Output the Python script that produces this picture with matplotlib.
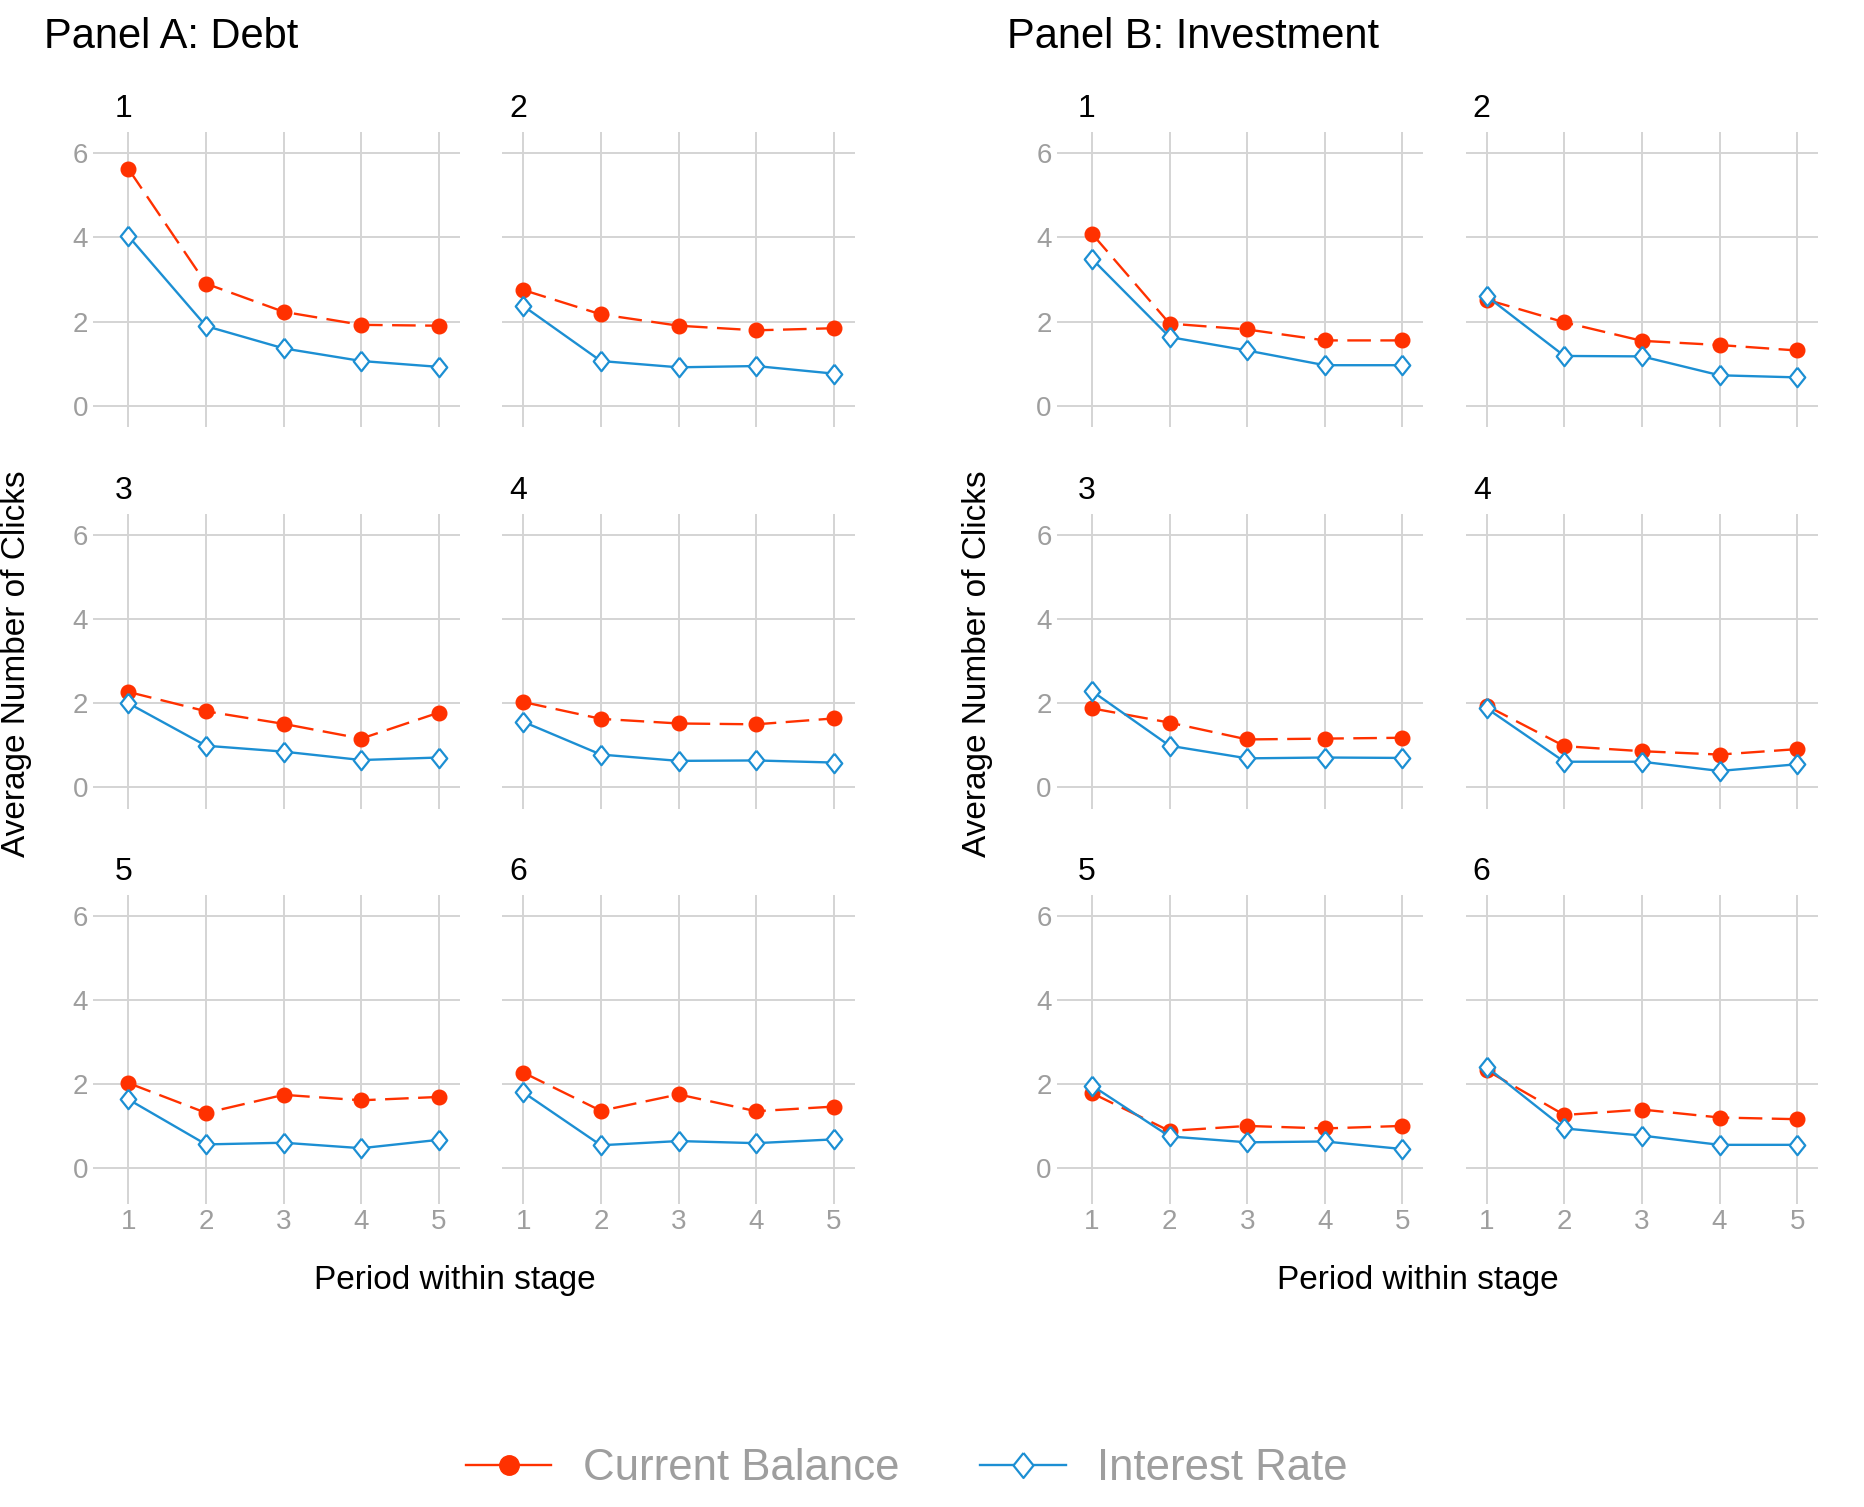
import matplotlib
matplotlib.use("Agg")
import matplotlib.pyplot as plt
from matplotlib.lines import Line2D

plt.rcParams["font.family"] = ["Liberation Sans", "DejaVu Sans"]

periods = [1, 2, 3, 4, 5]
stages = ["1", "2", "3", "4", "5", "6"]

# average clicks per period, one row per stage
debt_balance = [
    [5.63, 2.90, 2.23, 1.92, 1.90],
    [2.75, 2.17, 1.90, 1.79, 1.84],
    [2.27, 1.81, 1.51, 1.16, 1.78],
    [2.03, 1.63, 1.52, 1.50, 1.64],
    [2.02, 1.31, 1.74, 1.61, 1.69],
    [2.27, 1.36, 1.75, 1.35, 1.46],
]
debt_rate = [
    [4.03, 1.89, 1.36, 1.06, 0.92],
    [2.37, 1.06, 0.91, 0.94, 0.76],
    [2.00, 0.99, 0.85, 0.65, 0.71],
    [1.56, 0.78, 0.63, 0.64, 0.59],
    [1.63, 0.56, 0.60, 0.47, 0.67],
    [1.80, 0.54, 0.64, 0.59, 0.68],
]
invest_balance = [
    [4.09, 1.95, 1.81, 1.55, 1.55],
    [2.52, 1.98, 1.54, 1.44, 1.31],
    [1.88, 1.54, 1.14, 1.16, 1.18],
    [1.94, 0.98, 0.86, 0.78, 0.91],
    [1.78, 0.88, 1.00, 0.94, 1.00],
    [2.32, 1.26, 1.39, 1.20, 1.16],
]
invest_rate = [
    [3.49, 1.63, 1.31, 0.96, 0.96],
    [2.60, 1.18, 1.17, 0.72, 0.67],
    [2.29, 0.99, 0.69, 0.71, 0.70],
    [1.88, 0.61, 0.61, 0.39, 0.55],
    [1.96, 0.75, 0.61, 0.63, 0.45],
    [2.40, 0.94, 0.77, 0.55, 0.55],
]

RED = "#FF3100"
BLUE = "#1C8FD3"
GRID = "#D4D4D4"
TICK = "#9E9E9E"
diamond = [(0, 1), (0.8, 0), (0, -1), (-0.8, 0), (0, 1)]

W, H = 1865, 1507
fig = plt.figure(figsize=(W / 100, H / 100), dpi=100)


def add_px_axes(left, top, width, height):
    return fig.add_axes([left / W, 1 - (top + height) / H, width / W, height / H])


col_lefts = [107.5, 502.3, 1071.0, 1465.8]
row_tops = [132.4, 514.2, 894.8]
ax_w, ax_h = 352.4, 295.0

panels = [(debt_balance, debt_rate, 0), (invest_balance, invest_rate, 2)]

for balance, rate, c0 in panels:
    for i, stage in enumerate(stages):
        row, col = divmod(i, 2)
        left, top = col_lefts[c0 + col], row_tops[row]
        ax = add_px_axes(left, top, ax_w, ax_h)
        ax.plot(periods, balance[i], color=RED, lw=1.7, ls=(0, (10, 4)),
                marker="o", ms=10.5, zorder=3)
        ax.plot(periods, rate[i], color=BLUE, lw=1.7, marker=diamond, ms=14,
                mfc="white", mec=BLUE, mew=1.6, zorder=4)
        ax.set_xlim(0.73, 5.27)
        ax.set_ylim(-0.52, 6.5)
        ax.set_xticks(periods)
        ax.set_yticks([0, 2, 4, 6])
        ax.grid(True, color=GRID, lw=1.4)
        ax.set_axisbelow(True)
        for s in ax.spines.values():
            s.set_visible(False)
        ax.tick_params(colors=GRID, labelcolor=TICK, labelsize=20,
                       length=10, width=1.4, pad=4)
        if col != 0:
            ax.tick_params(axis="y", length=0, labelleft=False)
        if row != 2:
            ax.tick_params(axis="x", length=0, labelbottom=False)
        fig.text((left + 7) / W, 1 - (top - 23) / H, stage, fontsize=23,
                 ha="left", va="center")

# panel titles and axis titles
fig.text(44 / W, 1 - 37 / H, "Panel A: Debt", fontsize=30, ha="left", va="center")
fig.text(1007 / W, 1 - 37 / H, "Panel B: Investment", fontsize=30, ha="left", va="center")
for x in (17, 978):
    fig.text(x / W, 1 - 664 / H, "Average Number of Clicks", fontsize=24,
             rotation=90, ha="center", va="center")
for x in (455, 1418):
    fig.text(x / W, 1 - 1281 / H, "Period within stage", fontsize=24,
             ha="center", va="center")

handles = [
    Line2D([], [], color=RED, lw=1.7, marker="o", ms=14),
    Line2D([], [], color=BLUE, lw=1.7, marker=diamond, ms=18, mfc="white",
           mec=BLUE, mew=1.6),
]
leg = fig.legend(handles, ["Current Balance", "Interest Rate"], loc="center",
                 bbox_to_anchor=(907 / W, 1 - 1469 / H), ncol=2, frameon=False,
                 fontsize=31.5, handlelength=1.95, handletextpad=0.72,
                 columnspacing=1.85)
for t in leg.get_texts():
    t.set_color(TICK)

fig.savefig("out.png", dpi=100, facecolor="white")
